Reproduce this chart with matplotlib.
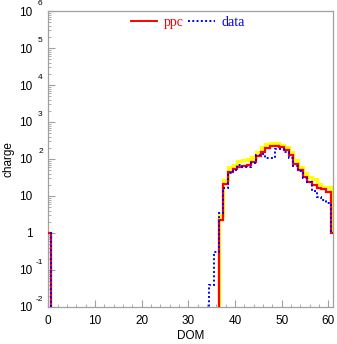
import numpy as np
import matplotlib
matplotlib.use("Agg")
import matplotlib.pyplot as plt
from matplotlib.ticker import FixedLocator, FuncFormatter, MultipleLocator, LogLocator, NullFormatter
from matplotlib.lines import Line2D

# ---- data (charge per DOM, bins centred on integer DOM numbers) ----
dom_all = np.arange(0, 62)

ppc_dom = [0, 37, 38, 39, 40, 41, 42, 43, 44, 45, 46, 47, 48, 49, 50,
           51, 52, 53, 54, 55, 56, 57, 58, 59, 60, 61]
ppc_val = [1.0, 2.2, 21, 45, 53, 62, 64, 69, 85, 120, 158, 195, 224, 224, 205,
           177, 130, 73, 50, 32, 24, 20, 16, 15, 13, 1.0]

ppc_alt_dom = [37, 38, 39, 40, 41, 42, 43, 44, 45, 46, 47, 48, 49, 50,
               51, 52, 53, 54, 55, 56, 57, 58, 59, 60, 61]
ppc_alt_val = [3.0, 27, 62, 69, 90, 94, 100, 115, 158, 205, 250, 270, 270, 240,
               215, 150, 94, 62, 41, 32, 28, 21, 18, 18, 1.2]

data_dom = [0, 35, 36, 37, 38, 39, 40, 41, 42, 43, 44, 45, 46, 47, 48, 49, 50,
            51, 52, 53, 54, 55, 56, 57, 58, 59, 60, 61]
data_val = [1.0, 0.039, 0.31, 3.5, 16, 42, 50, 69, 62, 60, 78, 130, 140, 105, 105, 190, 190,
            150, 105, 64, 46, 30, 24, 14, 9.4, 7.8, 6.6, 1.1]

xticks = [0, 10, 20, 30, 40, 50, 60]
yexps = [-2, -1, 0, 1, 2, 3, 4, 5, 6]


def full(doms, vals):
    arr = np.zeros(len(dom_all))
    for d, v in zip(doms, vals):
        arr[d] = v
    return arr


edges = np.append(dom_all - 0.5, dom_all[-1] + 0.5)

plt.rcParams['font.family'] = ['Liberation Sans', 'DejaVu Sans']

fig = plt.figure(figsize=(3.37, 3.44), dpi=100)
ax = fig.add_axes([0.1433, 0.1076, 0.988 - 0.1433, 0.968 - 0.1076])
ax.set_yscale('log', nonpositive='clip')

ax.stairs(full(ppc_alt_dom, ppc_alt_val), edges, color='#ffff00', lw=2.3, baseline=None, zorder=2)
ax.stairs(full(ppc_dom, ppc_val), edges, color='#ff0000', lw=1.6, baseline=None, zorder=3)
ax.stairs(full(data_dom, data_val), edges, color='#0000ff', lw=1.4, baseline=None,
          linestyle=(0, (1, 1.2)), zorder=4)

ax.set_xlim(0, 61)
ax.set_ylim(1e-2, 1e6)

gray = '#a0a0a0'
for s in ax.spines.values():
    s.set_color(gray)
    s.set_linewidth(0.9)

ax.xaxis.set_major_locator(FixedLocator(xticks))
ax.xaxis.set_minor_locator(MultipleLocator(2))
ax.yaxis.set_major_locator(FixedLocator([10.0 ** k for k in yexps]))
ax.yaxis.set_minor_locator(LogLocator(base=10, subs=np.arange(2, 10), numticks=20))
ax.yaxis.set_minor_formatter(NullFormatter())


def ybase(v, pos):
    return "1" if abs(v - 1) < 1e-9 else "10"


ax.yaxis.set_major_formatter(FuncFormatter(ybase))
ax.tick_params(which='both', direction='in', color=gray, top=False, right=False)
ax.tick_params(which='major', length=5, width=0.8, labelsize=8.5)
ax.tick_params(which='minor', length=2.5, width=0.6)
ax.tick_params(axis='y', which='major', pad=11.5)
ax.tick_params(axis='x', which='major', pad=6)

for k in yexps:
    if k in (0, 1):
        continue
    ax.annotate(str(k), xy=(0, 10.0 ** k), xycoords=('axes fraction', 'data'),
                xytext=(-4.0, 5.5), textcoords='offset points', ha='right', va='center',
                fontsize=6, annotation_clip=False)

ax.set_xlabel('DOM', fontsize=8.5, labelpad=2)
ax.set_ylabel('charge', fontsize=8.5, labelpad=3)

handles = [Line2D([], [], color='#ff0000', lw=1.4),
           Line2D([], [], color='#0000ff', lw=1.4, linestyle=(0, (1, 1.2)))]
ax.legend(handles, ['ppc', 'data'], loc='center', bbox_to_anchor=(0.49, 0.962), ncol=2,
          frameon=False, handlelength=1.9, handletextpad=0.45, columnspacing=0.35,
          prop={'family': 'Liberation Serif', 'size': 10}, labelcolor='linecolor',
          borderpad=0, borderaxespad=0)

fig.savefig('out.png', dpi=100)
